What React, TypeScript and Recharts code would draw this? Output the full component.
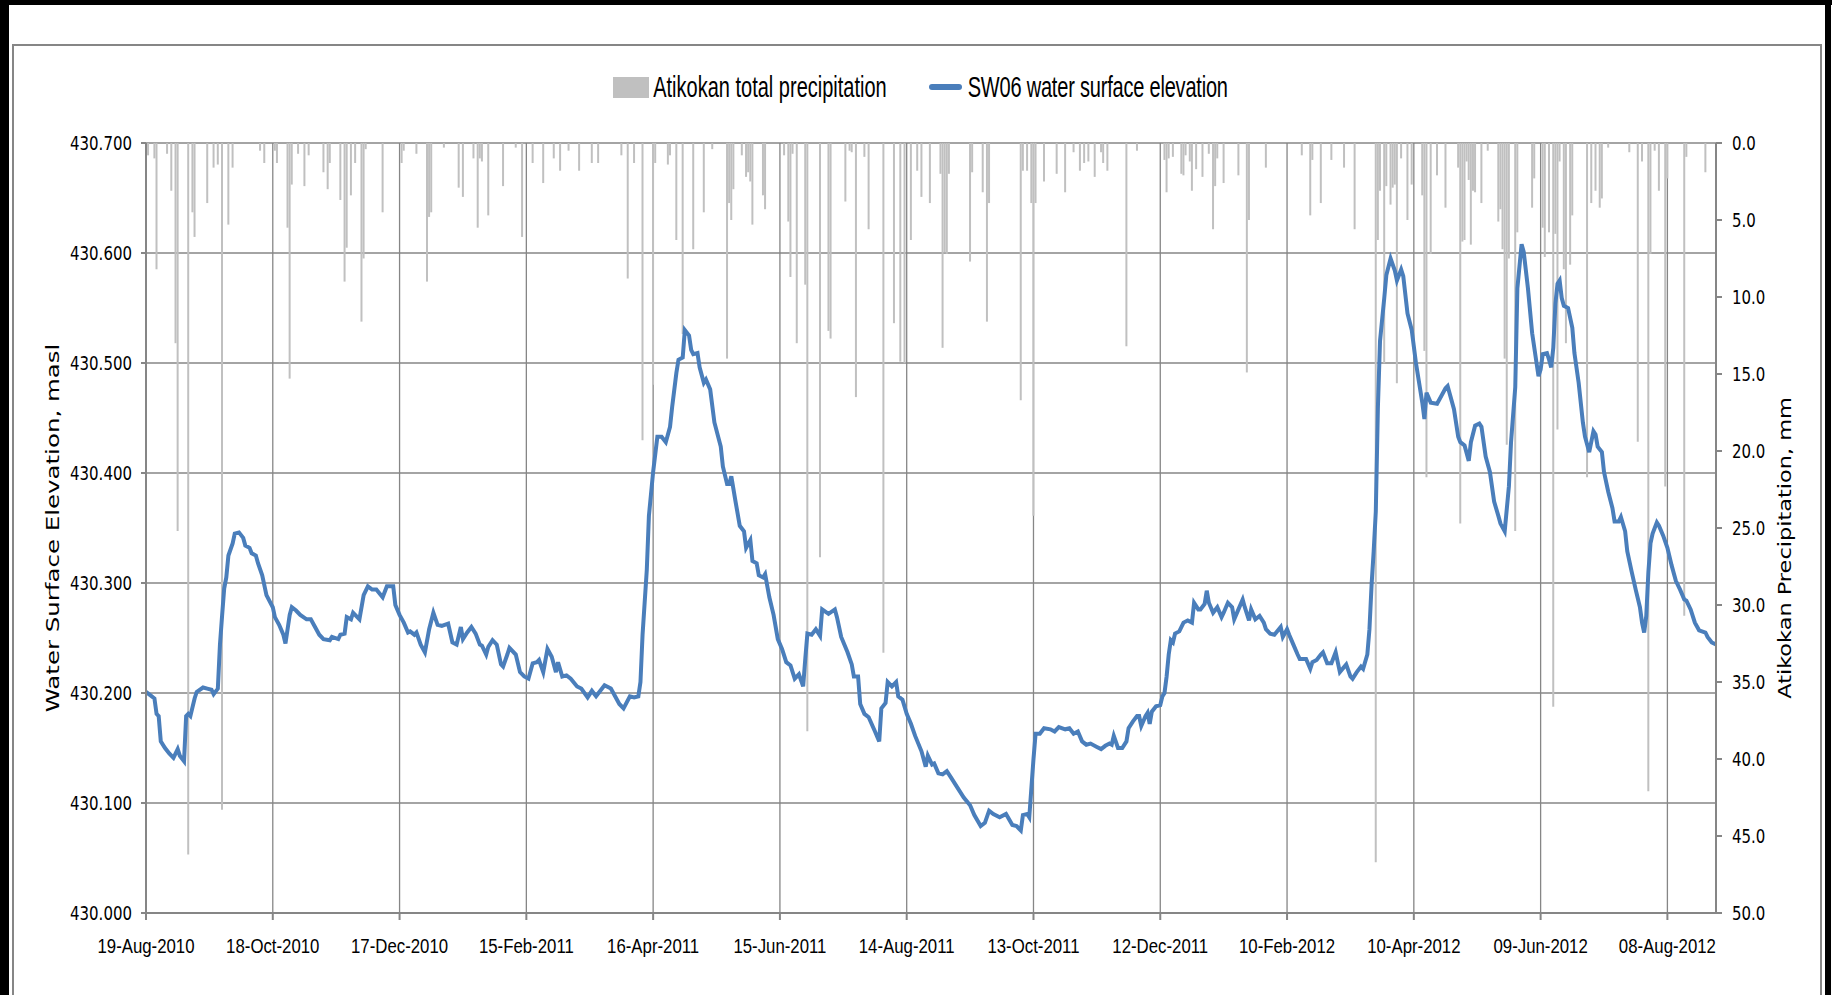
import {
  ComposedChart,
  Bar,
  Line,
  XAxis,
  YAxis,
  CartesianGrid,
  Legend,
} from 'recharts';

// day offsets from 19-Aug-2010
const tickDays = [0, 60, 120, 180, 240, 300, 360, 420, 480, 540, 600, 660, 720];
const tickLabels = [
  '19-Aug-2010', '18-Oct-2010', '17-Dec-2010', '15-Feb-2011', '16-Apr-2011',
  '15-Jun-2011', '14-Aug-2011', '13-Oct-2011', '12-Dec-2011', '10-Feb-2012',
  '10-Apr-2012', '09-Jun-2012', '08-Aug-2012',
];
const elevTicks = [430.0, 430.1, 430.2, 430.3, 430.4, 430.5, 430.6, 430.7];
const rainTicks = [0, 5, 10, 15, 20, 25, 30, 35, 40, 45, 50];

// Atikokan daily precipitation (mm), by day offset
const rainDays = [
  1, 4, 5, 10, 12, 14, 15, 20, 22, 23, 29, 32, 34, 36, 39, 41, 54, 56, 61, 62,
  67, 68, 69, 72, 75, 77, 84, 86, 87, 92, 94, 95, 97, 99, 102, 103, 104, 112, 121, 122,
  128, 133, 134, 135, 141, 148, 150, 155, 157, 158, 159, 162, 169, 175, 178, 183, 188, 193, 196, 200,
  205, 211, 214, 225, 228, 231, 235, 240, 241, 247, 248, 251, 254, 259, 264, 268, 275, 276, 277, 278,
  282, 284, 285, 286, 287, 292, 293, 302, 304, 305, 306, 308, 312, 313, 319, 323, 324, 331, 333, 334,
  336, 340, 342, 349, 354, 357, 359, 362, 365, 367, 371, 376, 377, 378, 379, 380, 390, 391, 396, 398,
  399, 414, 415, 417, 419, 420, 421, 425, 431, 435, 439, 442, 444, 446, 449, 452, 453, 455, 464, 469,
  482, 483, 484, 486, 490, 491, 492, 494, 495, 497, 500, 503, 505, 506, 507, 510, 517, 521, 522, 530,
  547, 551, 552, 556, 561, 567, 572, 582, 583, 584, 586, 587, 589, 590, 591, 592, 594, 597, 599, 604,
  605, 606, 608, 611, 615, 621, 622, 623, 624, 625, 626, 627, 628, 629, 632, 635, 640, 641, 642, 643,
  644, 645, 648, 649, 656, 657, 661, 662, 664, 666, 667, 668, 669, 671, 672, 674, 675, 682, 684, 686,
  688, 689, 692, 702, 706, 708, 711, 712, 714, 716, 719, 720, 728, 729, 738,
];
const rainMm = [
  0.8, 1.0, 8.2, 0.7, 3.1, 13.0, 25.2, 46.2, 4.5, 6.1, 3.9, 1.6, 1.4, 43.3, 5.3, 1.6, 0.5, 1.3, 0.5, 1.3,
  5.5, 15.3, 2.7, 0.7, 2.8, 0.8, 1.9, 3.0, 1.3, 3.7, 9.0, 6.8, 3.4, 1.3, 11.6, 7.5, 0.4, 4.5, 1.3, 0.5,
  0.7, 9.0, 4.8, 4.5, 0.3, 2.9, 3.5, 1.0, 5.5, 1.0, 1.2, 4.7, 2.8, 0.3, 6.1, 1.3, 2.6, 1.0, 1.8, 0.5,
  1.8, 1.3, 1.3, 0.8, 8.8, 1.3, 19.3, 15.7, 1.3, 1.4, 0.8, 6.3, 12.4, 6.9, 4.5, 0.4, 14.0, 3.9, 5.0, 3.0,
  0.8, 2.2, 1.9, 2.5, 5.3, 3.4, 4.3, 0.8, 5.1, 8.7, 0.7, 13.0, 9.2, 38.2, 26.9, 12.2, 12.7, 3.8, 0.5, 0.6,
  16.5, 0.9, 5.6, 33.1, 11.7, 14.2, 14.3, 6.3, 1.8, 3.5, 3.9, 2.0, 13.3, 7.1, 7.2, 2.0, 7.7, 1.9, 3.2, 11.6,
  3.9, 16.7, 1.8, 1.8, 3.9, 24.2, 3.9, 2.5, 2.0, 3.2, 0.6, 1.8, 1.3, 1.2, 2.2, 0.6, 1.3, 1.8, 13.2, 0.5,
  1.1, 3.2, 1.0, 0.9, 2.0, 2.1, 0.8, 1.2, 3.1, 1.7, 2.2, 0.7, 5.6, 2.8, 1.0, 2.6, 2.1, 14.9, 5.0, 1.6,
  0.8, 4.7, 1.1, 3.9, 1.1, 1.6, 5.6, 46.7, 6.3, 3.1, 14.3, 2.8, 4.0, 2.9, 2.7, 15.6, 1.0, 5.0, 2.7, 3.4,
  13.5, 21.7, 7.2, 2.1, 4.2, 1.6, 24.7, 6.4, 6.3, 1.2, 2.4, 6.6, 3.1, 3.2, 3.9, 0.5, 5.1, 4.3, 6.9, 14.0,
  19.6, 7.5, 25.2, 5.8, 4.2, 2.3, 5.5, 7.4, 5.8, 36.6, 5.9, 18.6, 1.2, 8.2, 13.0, 7.9, 4.7, 21.7, 3.9, 3.1,
  4.2, 3.6, 0.3, 0.6, 19.4, 1.2, 42.1, 7.2, 0.5, 3.1, 22.3, 2.3, 30.7, 0.9, 1.9,
];

// SW06 water surface elevation (masl), by day offset
const elevDays = [
  0, 2, 4, 5, 6, 7, 9, 11, 13, 15, 16, 18, 19, 20, 21, 23, 24, 27, 29, 31,
  32, 34, 35, 36, 37, 38, 39, 41, 42, 44, 46, 47, 49, 50, 52, 53, 55, 57, 60, 61,
  63, 65, 66, 68, 69, 71, 73, 76, 78, 80, 82, 84, 87, 88, 91, 92, 94, 95, 97, 98,
  100, 101, 103, 105, 107, 109, 112, 114, 117, 118, 120, 122, 124, 125, 127, 128, 130, 132, 134, 136,
  138, 140, 143, 145, 147, 149, 150, 152, 154, 156, 158, 159, 161, 162, 164, 166, 168, 169, 171, 172,
  175, 177, 179, 181, 183, 185, 186, 188, 190, 192, 194, 195, 197, 199, 201, 204, 206, 209, 211, 213,
  217, 220, 222, 224, 226, 229, 231, 233, 234, 235, 237, 238, 240, 242, 244, 246, 248, 249, 251, 252,
  254, 255, 257, 258, 259, 261, 262, 264, 265, 267, 269, 272, 273, 275, 276, 277, 279, 281, 283, 284,
  286, 287, 289, 290, 292, 293, 295, 297, 299, 301, 303, 305, 307, 309, 311, 312, 313, 315, 317, 319,
  320, 323, 326, 327, 329, 332, 334, 335, 337, 338, 340, 342, 345, 347, 348, 350, 351, 353, 355, 356,
  358, 360, 362, 364, 367, 369, 370, 372, 373, 375, 377, 379, 381, 384, 387, 390, 392, 395, 397, 399,
  401, 404, 407, 410, 412, 414, 415, 417, 418, 420, 421, 423, 425, 428, 430, 432, 435, 437, 439, 441,
  443, 445, 447, 450, 452, 454, 456, 457, 458, 460, 462, 464, 465, 467, 469, 470, 471, 473, 474, 475,
  476, 478, 480, 481, 482, 483, 484, 485, 486, 487, 489, 491, 493, 495, 496, 498, 499, 501, 502, 503,
  505, 507, 509, 510, 512, 514, 515, 517, 519, 520, 522, 523, 525, 527, 529, 530, 532, 534, 537, 538,
  540, 541, 543, 545, 546, 549, 551, 552, 554, 556, 557, 559, 561, 563, 565, 568, 570, 571, 573, 575,
  576, 578, 579, 580, 581, 582, 583, 584, 586, 587, 589, 591, 592, 594, 595, 597, 599, 601, 604, 605,
  606, 608, 611, 613, 615, 616, 619, 621, 622, 624, 626, 627, 629, 631, 632, 634, 636, 638, 640, 641,
  643, 645, 646, 648, 649, 651, 652, 654, 656, 659, 660, 661, 663, 664, 665, 666, 667, 668, 669, 670,
  671, 673, 675, 676, 678, 680, 681, 683, 685, 686, 687, 689, 690, 692, 694, 695, 697, 698, 700, 701,
  703, 705, 707, 708, 709, 710, 711, 712, 713, 715, 716, 718, 720, 722, 724, 726, 728, 729, 731, 733,
  735, 738, 739, 741, 743,
];
const elevValues = [
  430.201, 430.198, 430.195, 430.181, 430.179, 430.156, 430.150, 430.145, 430.141, 430.149, 430.143, 430.138, 430.179, 430.181, 430.179, 430.195, 430.201, 430.205, 430.204, 430.203,
  430.199, 430.204, 430.244, 430.270, 430.295, 430.305, 430.325, 430.336, 430.345, 430.346, 430.341, 430.334, 430.332, 430.327, 430.325, 430.318, 430.307, 430.289, 430.278, 430.269,
  430.262, 430.253, 430.245, 430.271, 430.278, 430.275, 430.271, 430.267, 430.267, 430.260, 430.253, 430.249, 430.248, 430.251, 430.249, 430.253, 430.254, 430.269, 430.267, 430.273,
  430.269, 430.267, 430.289, 430.297, 430.294, 430.294, 430.287, 430.297, 430.297, 430.280, 430.271, 430.264, 430.255, 430.256, 430.253, 430.255, 430.244, 430.237, 430.258, 430.273,
  430.262, 430.261, 430.263, 430.246, 430.244, 430.260, 430.249, 430.255, 430.260, 430.254, 430.244, 430.243, 430.235, 430.242, 430.248, 430.244, 430.226, 430.224, 430.235, 430.241,
  430.235, 430.219, 430.215, 430.213, 430.227, 430.228, 430.230, 430.219, 430.240, 430.233, 430.219, 430.228, 430.215, 430.216, 430.213, 430.206, 430.204, 430.196, 430.202, 430.197,
  430.207, 430.204, 430.197, 430.190, 430.186, 430.197, 430.196, 430.197, 430.210, 430.253, 430.312, 430.361, 430.401, 430.433, 430.433, 430.428, 430.442, 430.460, 430.491, 430.503,
  430.505, 430.530, 430.525, 430.512, 430.508, 430.509, 430.496, 430.482, 430.485, 430.476, 430.446, 430.424, 430.406, 430.390, 430.390, 430.397, 430.374, 430.352, 430.347, 430.332,
  430.339, 430.320, 430.318, 430.307, 430.305, 430.308, 430.287, 430.271, 430.249, 430.240, 430.228, 430.225, 430.213, 430.217, 430.206, 430.231, 430.254, 430.253, 430.258, 430.252,
  430.276, 430.272, 430.276, 430.269, 430.251, 430.237, 430.226, 430.215, 430.215, 430.190, 430.181, 430.178, 430.165, 430.156, 430.186, 430.191, 430.210, 430.206, 430.210, 430.197,
  430.194, 430.181, 430.172, 430.161, 430.147, 430.133, 430.143, 430.135, 430.136, 430.127, 430.126, 430.129, 430.123, 430.114, 430.105, 430.098, 430.089, 430.079, 430.082, 430.093,
  430.090, 430.087, 430.090, 430.080, 430.079, 430.075, 430.089, 430.090, 430.087, 430.140, 430.163, 430.163, 430.168, 430.167, 430.165, 430.169, 430.167, 430.168, 430.163, 430.165,
  430.156, 430.153, 430.154, 430.151, 430.149, 430.152, 430.154, 430.153, 430.161, 430.150, 430.150, 430.156, 430.168, 430.174, 430.179, 430.179, 430.170, 430.179, 430.182, 430.172,
  430.183, 430.188, 430.189, 430.197, 430.200, 430.215, 430.235, 430.248, 430.246, 430.254, 430.256, 430.264, 430.266, 430.264, 430.282, 430.276, 430.276, 430.281, 430.293, 430.282,
  430.273, 430.278, 430.269, 430.273, 430.282, 430.278, 430.267, 430.276, 430.285, 430.278, 430.266, 430.276, 430.267, 430.270, 430.264, 430.258, 430.254, 430.253, 430.260, 430.251,
  430.258, 430.253, 430.244, 430.235, 430.231, 430.231, 430.222, 430.228, 430.230, 430.235, 430.237, 430.227, 430.227, 430.237, 430.219, 430.226, 430.215, 430.213, 430.219, 430.224,
  430.222, 430.235, 430.258, 430.298, 430.329, 430.365, 430.460, 430.520, 430.559, 430.580, 430.595, 430.584, 430.575, 430.585, 430.579, 430.545, 430.530, 430.500, 430.464, 430.449,
  430.473, 430.464, 430.463, 430.470, 430.477, 430.479, 430.458, 430.433, 430.428, 430.425, 430.411, 430.428, 430.443, 430.445, 430.442, 430.415, 430.401, 430.374, 430.361, 430.354,
  430.347, 430.388, 430.428, 430.478, 430.568, 430.608, 430.601, 430.568, 430.527, 430.488, 430.494, 430.508, 430.509, 430.503, 430.496, 430.514, 430.554, 430.572, 430.575, 430.559,
  430.552, 430.550, 430.532, 430.509, 430.482, 430.446, 430.433, 430.419, 430.438, 430.435, 430.424, 430.419, 430.401, 430.383, 430.368, 430.356, 430.356, 430.360, 430.347, 430.329,
  430.311, 430.294, 430.278, 430.264, 430.255, 430.270, 430.310, 430.336, 430.345, 430.355, 430.352, 430.343, 430.332, 430.316, 430.302, 430.294, 430.285, 430.284, 430.276, 430.264,
  430.257, 430.255, 430.251, 430.246, 430.244,
];

// merge both series into one table keyed by day
const rowsByDay = new Map<number, { day: number; rain?: number; elev?: number }>();
rainDays.forEach((d, i) => {
  rowsByDay.set(d, { ...(rowsByDay.get(d) || { day: d }), rain: rainMm[i] });
});
elevDays.forEach((d, i) => {
  rowsByDay.set(d, { ...(rowsByDay.get(d) || { day: d }), elev: elevValues[i] });
});
const chartData = Array.from(rowsByDay.values()).sort((a, b) => a.day - b.day);

const narrowFont = "'Liberation Sans', Arial, sans-serif";
const wideFont = "'DejaVu Sans', Verdana, sans-serif";
const axisGray = '#868686';

const DateTick = ({ x, y, payload }: any) => {
  const i = tickDays.indexOf(payload.value);
  return (
    <g transform={`translate(${x},${y}) scale(1,1.2)`}>
      <text textAnchor="middle" dy="0.71em" fontFamily={narrowFont} fontSize={16.8} fill="#000">
        {tickLabels[i]}
      </text>
    </g>
  );
};

const ElevTick = ({ x, y, payload }: any) => (
  <g transform={`translate(${x},${y}) scale(1,1.25)`}>
    <text textAnchor="end" dy="0.36em" fontFamily={wideFont} fontSize={15} fill="#000">
      {Number(payload.value).toFixed(3)}
    </text>
  </g>
);

const RainTick = ({ x, y, payload }: any) => (
  <g transform={`translate(${x},${y}) scale(1,1.25)`}>
    <text textAnchor="start" dy="0.36em" fontFamily={wideFont} fontSize={15} fill="#000">
      {Number(payload.value).toFixed(1)}
    </text>
  </g>
);

const AxisTitle = ({ cx, cy, text, stretch }: { cx: number; cy: number; text: string; stretch: number }) => (
  <g transform={`translate(${cx},${cy}) rotate(-90) scale(${stretch},1)`}>
    <text textAnchor="middle" dy="0.36em" fontFamily={wideFont} fontSize={17} fill="#000">
      {text}
    </text>
  </g>
);

const LegendContent = () => (
  <div
    style={{
      display: 'flex',
      justifyContent: 'center',
      alignItems: 'center',
      height: 26,
      marginLeft: 6,
      fontFamily: narrowFont,
      fontSize: 20,
      color: '#000',
    }}
  >
    <span style={{ width: 36, height: 21, background: '#c0c0c0', marginRight: 4 }} />
    <span style={{ display: 'inline-block', transform: 'scaleY(1.45)' }}>
      Atikokan total precipitation
    </span>
    <span
      style={{
        width: 33,
        height: 6,
        borderRadius: 3,
        background: '#4a7ebb',
        marginLeft: 42,
        marginRight: 6,
      }}
    />
    <span style={{ display: 'inline-block', transform: 'scaleY(1.45)', letterSpacing: -0.2 }}>
      SW06 water surface elevation
    </span>
  </div>
);

export default function App() {
  return (
    <div
      style={{
        position: 'absolute',
        left: 0,
        top: 0,
        width: 1835,
        height: 995,
        background: '#fff',
        overflow: 'hidden',
      }}
    >
      {/* page frame */}
      <div style={{ position: 'absolute', left: 0, top: 0, width: 1832, height: 5, background: '#000' }} />
      <div style={{ position: 'absolute', left: 0, top: 0, width: 9, height: 995, background: '#000' }} />
      <div style={{ position: 'absolute', left: 1825, top: 0, width: 6, height: 995, background: '#000' }} />
      <div
        style={{
          position: 'absolute',
          left: 12,
          top: 44,
          width: 1810,
          height: 960,
          border: `2px solid ${axisGray}`,
          boxSizing: 'border-box',
        }}
      />
      <div style={{ position: 'absolute', left: 0, top: 0 }}>
        <ComposedChart
          width={1835}
          height={995}
          data={chartData}
          margin={{ top: 143, right: 0, bottom: 0, left: 0 }}
        >
          <CartesianGrid
            yAxisId="elev"
            stroke={axisGray}
            strokeWidth={1.3}
            horizontalValues={elevTicks}
            verticalValues={tickDays}
          />
          <XAxis
            dataKey="day"
            type="number"
            domain={[0, 743]}
            ticks={tickDays}
            interval={0}
            height={82}
            tick={<DateTick />}
            tickSize={7}
            tickMargin={19}
            stroke={axisGray}
            strokeWidth={2}
            allowDataOverflow
          />
          <YAxis
            yAxisId="elev"
            domain={[430, 430.7]}
            ticks={elevTicks}
            interval={0}
            width={146}
            tick={<ElevTick />}
            tickSize={5}
            tickMargin={9}
            stroke={axisGray}
            strokeWidth={2}
            allowDataOverflow
            label={{
              content: () => (
                <AxisTitle cx={53} cy={528} stretch={1.44} text="Water Surface Elevation, masl" />
              ),
            }}
          />
          <YAxis
            yAxisId="rain"
            orientation="right"
            reversed
            domain={[0, 50]}
            ticks={rainTicks}
            interval={0}
            width={119}
            tick={<RainTick />}
            tickSize={6}
            tickMargin={10}
            stroke={axisGray}
            strokeWidth={2}
            label={{
              content: () => (
                <AxisTitle cx={1785} cy={548} stretch={1.32} text="Atikokan Precipitation, mm" />
              ),
            }}
          />
          <Legend
            verticalAlign="middle"
            align="center"
            layout="horizontal"
            content={<LegendContent />}
            wrapperStyle={{ top: 74, left: 0, width: 1835 }}
          />
          <Bar
            yAxisId="rain"
            dataKey="rain"
            name="Atikokan total precipitation"
            fill="#c0c0c0"
            barSize={2}
            isAnimationActive={false}
          />
          <Line
            yAxisId="elev"
            dataKey="elev"
            name="SW06 water surface elevation"
            type="linear"
            stroke="#4a7ebb"
            strokeWidth={4}
            dot={false}
            connectNulls
            isAnimationActive={false}
          />
        </ComposedChart>
      </div>
    </div>
  );
}
